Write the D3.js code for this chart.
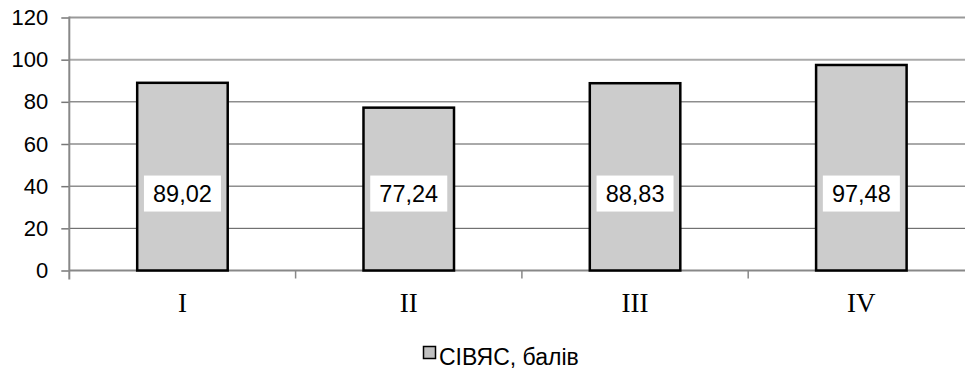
<!DOCTYPE html>
<html><head><meta charset="utf-8">
<script src="https://cdn.jsdelivr.net/npm/d3@7"></script>
<style>html,body{margin:0;padding:0;background:#fff;}svg{display:block;}</style>
</head><body>
<svg id="c" width="965" height="374"></svg>
<script>
const categories = ["I", "II", "III", "IV"];
const values = [89.02, 77.24, 88.83, 97.48];
const yTicks = [0, 20, 40, 60, 80, 100, 120];
const seriesName = "СІВЯС, балів";

(function () {
const svg = d3.select("#c");
const pLeft = 69.3, pRight = 974.5, pTop = 17.5, pBottom = 270.5;
const x = d3.scaleBand().domain(categories).range([pLeft, pRight]).paddingInner(0.6).paddingOuter(0.3);
const y = d3.scaleLinear().domain([0, 120]).range([pBottom, pTop]);
const fmt = d3.formatLocale({decimal: ",", thousands: " ", grouping: [3], currency: ["", ""]}).format(".2f");

// gridlines
svg.append("g").selectAll("line").data(yTicks.filter(t => t > 0)).join("line")
  .attr("x1", pLeft).attr("x2", 965)
  .attr("y1", d => y(d)).attr("y2", d => y(d))
  .attr("stroke", d => d === 120 ? "#999" : (d === 100 ? "#aaa" : "#555"))
  .attr("stroke-width", d => d >= 100 ? 2 : 1);

// y axis
const yAxis = d3.axisLeft(y).tickValues(yTicks).tickSize(8).tickPadding(13);
const gy = svg.append("g").attr("transform", `translate(${pLeft},0)`).call(yAxis);
gy.select(".domain").remove();
gy.selectAll(".tick line").attr("stroke", "#777").attr("stroke-width", 1.5);
gy.selectAll(".tick text").attr("font-family", "Liberation Sans, Arial, sans-serif").attr("font-size", 22).attr("fill", "#000");
svg.append("line").attr("x1", pLeft).attr("x2", pLeft).attr("y1", pTop - 1).attr("y2", pBottom + 9)
  .attr("stroke", "#888").attr("stroke-width", 2);

// x axis line and ticks at band boundaries
svg.append("line").attr("x1", pLeft).attr("x2", 965).attr("y1", pBottom).attr("y2", pBottom)
  .attr("stroke", "#888").attr("stroke-width", 2);
const step = x.step();
const boundaries = categories.slice(1).map(c => x(c) - step * x.paddingInner() / 2);
svg.append("g").selectAll("line").data(boundaries).join("line")
  .attr("x1", d => d).attr("x2", d => d).attr("y1", pBottom).attr("y2", pBottom + 8)
  .attr("stroke", "#888").attr("stroke-width", 1.5);

// bars
svg.append("g").selectAll("rect").data(values).join("rect")
  .attr("x", (d, i) => x(categories[i]))
  .attr("y", d => y(d))
  .attr("width", x.bandwidth())
  .attr("height", d => y(0) - y(d))
  .attr("fill", "#cccccc").attr("stroke", "#000").attr("stroke-width", 2.5);

// data labels
const lab = svg.append("g").selectAll("g").data(values).join("g")
  .attr("transform", (d, i) => `translate(${x(categories[i]) + x.bandwidth() / 2},${y(36.5)})`);
lab.append("rect").attr("x", -38.5).attr("y", -18).attr("width", 77).attr("height", 36).attr("fill", "#fff");
lab.append("text").attr("text-anchor", "middle").attr("dy", "0.36em")
  .attr("font-family", "Liberation Sans, Arial, sans-serif").attr("font-size", 23.5).attr("fill", "#000")
  .text(d => fmt(d));

// category labels
svg.append("g").selectAll("text").data(categories).join("text")
  .attr("x", d => x(d) + x.bandwidth() / 2).attr("y", 312)
  .attr("text-anchor", "middle")
  .attr("font-family", "Liberation Serif, Times New Roman, serif").attr("font-size", 27).attr("fill", "#000")
  .text(d => d);

// legend
svg.append("rect").attr("x", 423.5).attr("y", 346.5).attr("width", 12).attr("height", 12)
  .attr("fill", "#c0c0c0").attr("stroke", "#000").attr("stroke-width", 1.5);
svg.append("text").attr("x", 439).attr("y", 365)
  .attr("font-family", "Liberation Sans, Arial, sans-serif").attr("font-size", 23).attr("fill", "#000")
  .text(seriesName);
})();
</script>
</body></html>
